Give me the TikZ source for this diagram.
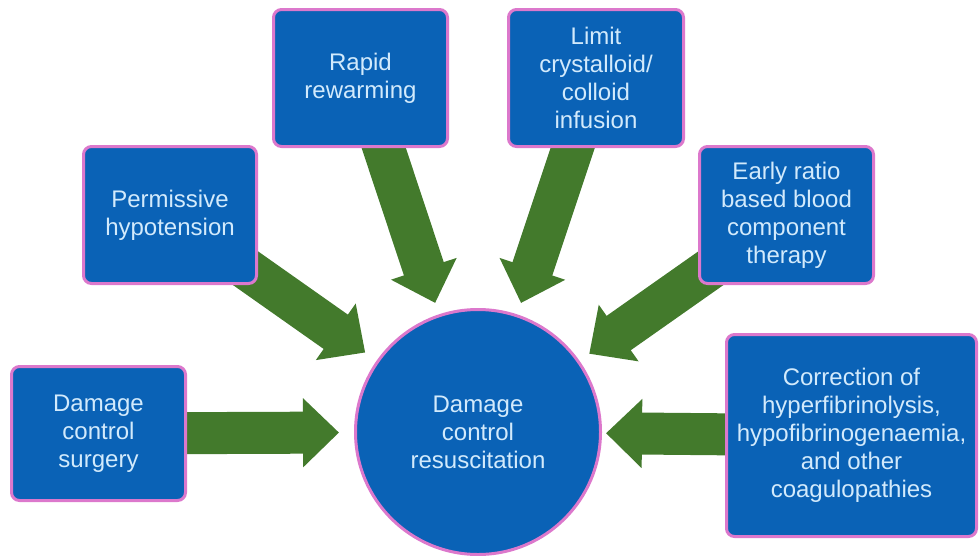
\documentclass[tikz,border=0pt]{standalone}
\usepackage{fontspec}
\setmainfont{Liberation Sans}
\usetikzlibrary{arrows.meta,backgrounds}
\definecolor{boxblue}{HTML}{0A62B6}
\definecolor{boxpink}{HTML}{DC78CC}
\definecolor{arrgreen}{HTML}{437A2C}
\definecolor{txtblue}{HTML}{D2EAFC}
\tikzset{
  box/.style={draw=boxpink, fill=boxblue, line width=3pt, rounded corners=8pt,
    inner sep=0pt, align=center, text=txtblue,
    font=\fontsize{24}{28}\selectfont},
  hub/.style={circle, draw=boxpink, fill=boxblue, line width=3pt, inner sep=0pt,
    minimum size=245pt, align=center, text=txtblue,
    font=\fontsize{24}{28}\selectfont},
  fat/.style={draw=arrgreen, line width=42pt,
    -{Triangle[length=36pt,width=67pt]}}
}
\begin{document}
\begin{tikzpicture}[x=1pt,y=-1pt]
\useasboundingbox (0,0) rectangle (979,555);
\node[hub] (dcr) at (478,432) {Damage\\control\\resuscitation};
\node[box, minimum width=174pt, minimum height=137pt] (rapid) at (360.5,78) {Rapid\\rewarming};
\node[box, minimum width=175pt, minimum height=137pt] (limit) at (596,78) {Limit\\crystalloid/\\colloid\\infusion};
\node[box, minimum width=173pt, minimum height=137pt] (perm) at (170,215) {Permissive\\hypotension};
\node[box, minimum width=174pt, minimum height=137pt] (early) at (786.5,215) {Early ratio\\based blood\\component\\therapy};
\node[box, minimum width=174pt, minimum height=134pt] (surg) at (98.5,433.5) {Damage\\control\\surgery};
\node[box, minimum width=250pt, minimum height=202pt] (corr) at (851.5,435.5) {Correction of\\hyperfibrinolysis,\\hypofibrinogenaemia,\\and other\\coagulopathies};
\begin{scope}[on background layer]
\draw[fat, shorten >=15pt] (surg.center) -- (dcr);
\draw[fat, shorten >=14pt] (perm.center) -- (dcr);
\draw[fat, shorten >=12pt] (rapid.center) -- (dcr);
\draw[fat, shorten >=12pt] (limit.center) -- (dcr);
\draw[fat, shorten >=12pt] (early.center) -- (dcr);
\draw[fat, shorten >=4pt] (corr.center) -- (dcr);
\end{scope}
\end{tikzpicture}
\end{document}
